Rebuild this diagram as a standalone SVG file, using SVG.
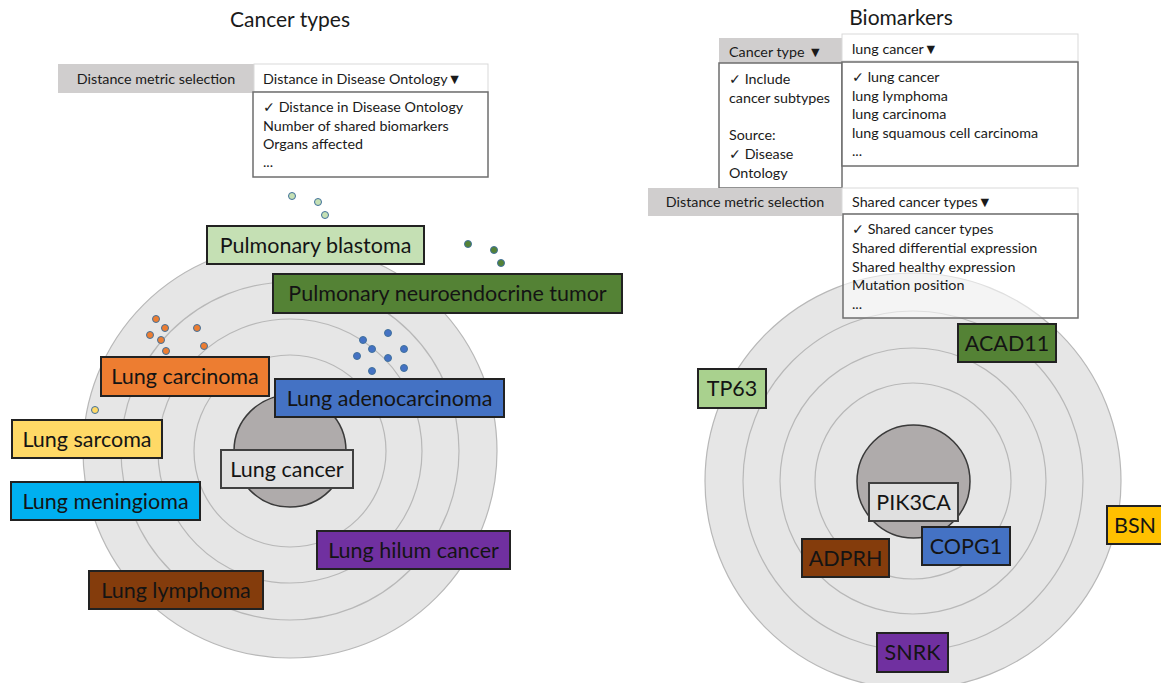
<svg xmlns="http://www.w3.org/2000/svg" width="1161" height="683" viewBox="0 0 1161 683">
<style>
text{font-family:Lato,"Liberation Sans","DejaVu Sans",sans-serif;fill:#1a1a1a}
.title{font-size:21px;text-anchor:middle}
.sm{font-size:14.3px}
.lbl{font-size:21.5px;text-anchor:middle;fill:#141414}
.ring{fill:#e6e6e6;stroke:#b8b8b8;stroke-width:1.2}
.core{fill:#afabab;stroke:#3a3a3a;stroke-width:1.5}
.box{stroke:#222;stroke-width:2}
.cbox{stroke:#404040;stroke-width:2;fill:#e0e0e0}
.gray{fill:#d0cece}
.sel{fill:#fff;stroke:#d9d9d9;stroke-width:1}
.list{fill:#fff;stroke:#6e6e6e;stroke-width:1.5}
.dot{stroke:#41719c;stroke-width:1}
</style>
<rect width="1161" height="683" fill="#fff"/>

<!-- LEFT PANEL -->
<text class="title" x="290" y="27">Cancer types</text>
<g id="left-metric">
<rect class="gray" x="58" y="64" width="196" height="29"/>
<text class="sm" x="156" y="84" text-anchor="middle">Distance metric selection</text>
<rect class="sel" x="254" y="64" width="234" height="28"/>
<text class="sm" x="263" y="84">Distance in Disease Ontology▼</text>
<rect class="list" x="253" y="92" width="235" height="85"/>
<text class="sm" x="263" y="112">✓ Distance in Disease Ontology</text>
<text class="sm" x="263" y="131">Number of shared biomarkers</text>
<text class="sm" x="263" y="149">Organs affected</text>
<text class="sm" x="263" y="167" fill="#555">...</text>
</g>

<g id="left-rings">
<circle class="ring" cx="290" cy="451" r="207"/>
<circle class="ring" cx="290" cy="451" r="169"/>
<circle class="ring" cx="290" cy="451" r="132"/>
<circle class="ring" cx="290" cy="451" r="96"/>
<circle class="core" cx="290" cy="451" r="56"/>
</g>

<g id="left-dots">
<g fill="#c5e0b4">
<circle class="dot" cx="292" cy="196" r="3.5"/>
<circle class="dot" cx="318" cy="202" r="3.5"/>
<circle class="dot" cx="325" cy="215" r="3.5"/>
</g>
<g fill="#548235">
<circle class="dot" cx="468" cy="244" r="3.5"/>
<circle class="dot" cx="494" cy="250" r="3.5"/>
<circle class="dot" cx="501" cy="263" r="3.5"/>
</g>
<g fill="#ed7d31">
<circle class="dot" cx="156" cy="319" r="3.5"/>
<circle class="dot" cx="165" cy="328" r="3.5"/>
<circle class="dot" cx="150" cy="335" r="3.5"/>
<circle class="dot" cx="161" cy="340" r="3.5"/>
<circle class="dot" cx="166" cy="351" r="3.5"/>
<circle class="dot" cx="197" cy="328" r="3.5"/>
<circle class="dot" cx="204" cy="346" r="3.5"/>
</g>
<g fill="#4472c4">
<circle class="dot" cx="388" cy="333" r="3.5"/>
<circle class="dot" cx="363" cy="340" r="3.5"/>
<circle class="dot" cx="372" cy="349" r="3.5"/>
<circle class="dot" cx="404" cy="349" r="3.5"/>
<circle class="dot" cx="357" cy="356" r="3.5"/>
<circle class="dot" cx="388" cy="358" r="3.5"/>
<circle class="dot" cx="372" cy="371" r="3.5"/>
<circle class="dot" cx="404" cy="368" r="3.5"/>
</g>
<circle class="dot" cx="95" cy="410" r="3.5" fill="#ffd966"/>
</g>

<g id="n-pulmonary-blastoma"><rect class="box" x="207" y="226" width="217" height="38" fill="#c5e0b4"/><text class="lbl" x="315.5" y="253">Pulmonary blastoma</text></g>
<g id="n-pulmonary-neuroendocrine"><rect class="box" x="273" y="274" width="349" height="39" fill="#548235"/><text class="lbl" x="447.5" y="301">Pulmonary neuroendocrine tumor</text></g>
<g id="n-lung-carcinoma"><rect class="box" x="101" y="357" width="168" height="39" fill="#ed7d31"/><text class="lbl" x="185" y="384">Lung carcinoma</text></g>
<g id="n-lung-adenocarcinoma"><rect class="box" x="275" y="379" width="229" height="38" fill="#4472c4"/><text class="lbl" x="389.5" y="406">Lung adenocarcinoma</text></g>
<g id="n-lung-sarcoma"><rect class="box" x="12" y="420" width="150" height="38" fill="#ffd966"/><text class="lbl" x="87" y="447">Lung sarcoma</text></g>
<g id="n-lung-cancer"><rect class="cbox" x="221" y="450" width="132" height="38"/><text class="lbl" x="287" y="477">Lung cancer</text></g>
<g id="n-lung-meningioma"><rect class="box" x="11" y="482" width="189" height="38" fill="#00b0f0"/><text class="lbl" x="105.5" y="509">Lung meningioma</text></g>
<g id="n-lung-hilum"><rect class="box" x="317" y="531" width="193" height="38" fill="#7030a0"/><text class="lbl" x="413.5" y="558">Lung hilum cancer</text></g>
<g id="n-lung-lymphoma"><rect class="box" x="89" y="571" width="174" height="38" fill="#843c0c"/><text class="lbl" x="176" y="598">Lung lymphoma</text></g>

<!-- RIGHT PANEL -->
<text class="title" x="901" y="25">Biomarkers</text>
<g id="right-rings">
<circle class="ring" cx="913" cy="481" r="208"/>
<circle class="ring" cx="913" cy="481" r="170"/>
<circle class="ring" cx="913" cy="481" r="133"/>
<circle class="ring" cx="913" cy="481" r="98"/>
<circle class="core" cx="913.5" cy="481.5" r="56.5"/>
</g>

<g id="right-cancer-type">
<rect class="gray" x="719" y="38" width="123" height="25"/>
<text class="sm" x="729" y="57">Cancer type ▼</text>
<rect class="sel" x="842" y="34" width="236" height="27"/>
<text class="sm" x="852" y="54">lung cancer▼</text>
<rect class="list" x="719" y="63" width="123" height="125"/>
<text class="sm" x="729" y="84">✓ Include</text>
<text class="sm" x="729" y="103">cancer subtypes</text>
<text class="sm" x="729" y="140">Source:</text>
<text class="sm" x="729" y="159">✓ Disease</text>
<text class="sm" x="729" y="178">Ontology</text>
<rect class="list" x="842" y="62" width="236" height="104"/>
<text class="sm" x="852" y="82">✓ lung cancer</text>
<text class="sm" x="852" y="101">lung lymphoma</text>
<text class="sm" x="852" y="119">lung carcinoma</text>
<text class="sm" x="852" y="138">lung squamous cell carcinoma</text>
<text class="sm" x="852" y="156" fill="#555">...</text>
</g>

<g id="right-metric">
<rect class="gray" x="648" y="188" width="194" height="28"/>
<text class="sm" x="745" y="207" text-anchor="middle">Distance metric selection</text>
<rect class="sel" x="842" y="188" width="236" height="26"/>
<text class="sm" x="852" y="207">Shared cancer types▼</text>
<rect class="list" x="843" y="214" width="235" height="104" fill-opacity="0.55"/>
<text class="sm" x="852" y="234">✓ Shared cancer types</text>
<text class="sm" x="852" y="253">Shared differential expression</text>
<text class="sm" x="852" y="272">Shared healthy expression</text>
<text class="sm" x="852" y="290">Mutation position</text>
<text class="sm" x="852" y="309" fill="#555">...</text>
</g>

<g id="n-acad11"><rect class="box" x="958" y="324" width="98" height="38" fill="#548235"/><text class="lbl" x="1007" y="351">ACAD11</text></g>
<g id="n-tp63"><rect class="box" x="698" y="369" width="68" height="39" fill="#a9d18e"/><text class="lbl" x="732" y="396">TP63</text></g>
<g id="n-pik3ca"><rect class="cbox" x="869" y="483" width="89" height="38"/><text class="lbl" x="913.5" y="510">PIK3CA</text></g>
<g id="n-bsn"><rect class="box" x="1107" y="506" width="60" height="38" fill="#ffc000"/><text class="lbl" x="1135" y="533">BSN</text></g>
<g id="n-copg1"><rect class="box" x="922" y="527" width="88" height="38" fill="#4472c4"/><text class="lbl" x="966" y="554">COPG1</text></g>
<g id="n-adprh"><rect class="box" x="802" y="539" width="87" height="38" fill="#843c0c"/><text class="lbl" x="845.5" y="566">ADPRH</text></g>
<g id="n-snrk"><rect class="box" x="877" y="633" width="71" height="39" fill="#7030a0"/><text class="lbl" x="912.5" y="660">SNRK</text></g>
<g id="connectors"></g>
</svg>
